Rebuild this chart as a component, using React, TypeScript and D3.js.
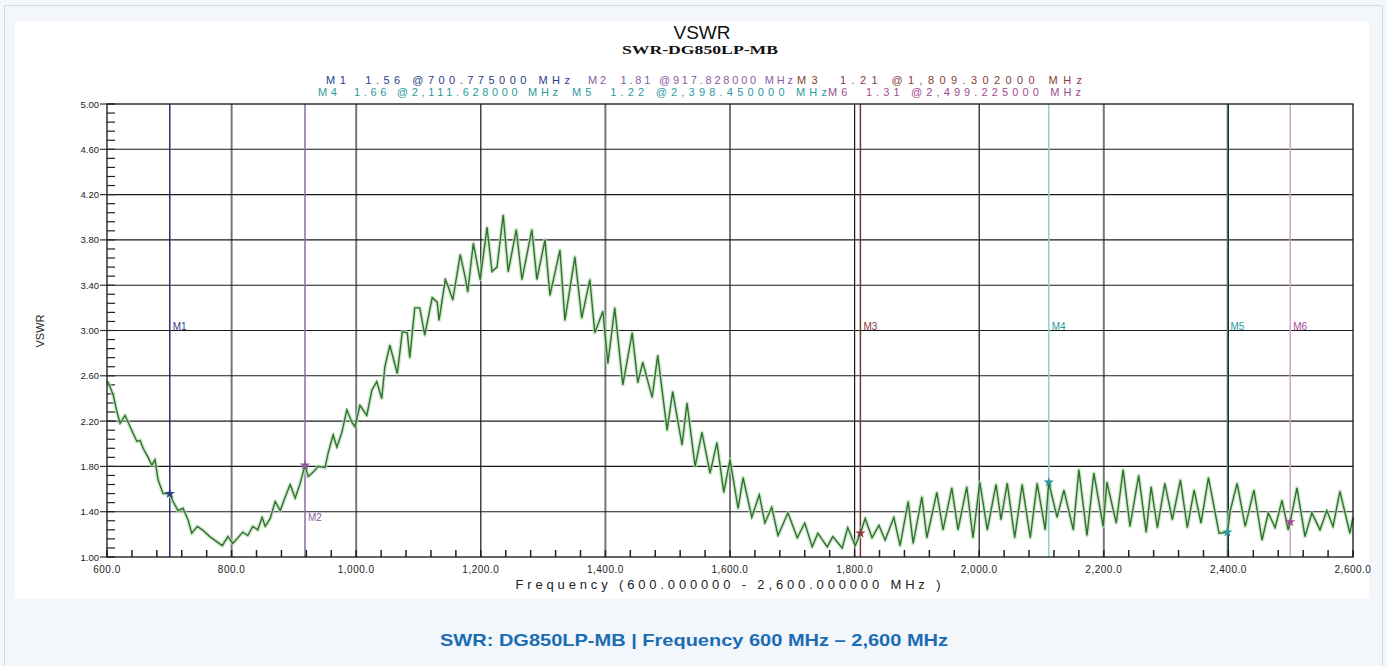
import React, { useEffect, useRef } from 'react';
import * as d3 from 'd3';

// trace: [frequency MHz, VSWR]
const trace: [number, number][] = [
  [600, 2.55], [602, 2.54], [610, 2.43], [616, 2.28], [621, 2.18], [629, 2.25],
  [642, 2.09], [648, 2.02], [653, 2.03], [658, 1.96], [666, 1.88], [672, 1.81],
  [677, 1.86], [682, 1.68], [690, 1.56], [700.8, 1.56], [706, 1.49], [714, 1.41],
  [722, 1.43], [730, 1.33], [736, 1.21], [745, 1.27], [753, 1.24], [765, 1.18],
  [785, 1.1], [794, 1.18], [802, 1.12], [818, 1.22], [826, 1.19], [834, 1.27],
  [842, 1.24], [849, 1.35], [854, 1.27], [862, 1.34], [870, 1.49], [878, 1.41],
  [886, 1.53], [894, 1.64], [902, 1.52], [910, 1.65], [917.8, 1.81], [923, 1.71],
  [931, 1.75], [939, 1.8], [950, 1.79], [955, 1.92], [963, 2.08], [969, 1.97],
  [977, 2.1], [985, 2.3], [993, 2.19], [998, 2.15], [1006, 2.34], [1017, 2.25],
  [1025, 2.47], [1033, 2.55], [1041, 2.4], [1046, 2.68], [1054, 2.87], [1066, 2.62],
  [1074, 2.99], [1082, 2.98], [1086, 2.76], [1094, 3.2], [1102, 3.2], [1110, 2.96],
  [1122, 3.29], [1130, 3.25], [1133, 3.09], [1143, 3.45], [1147, 3.4], [1155, 3.27],
  [1167, 3.67], [1175, 3.47], [1179, 3.34], [1188, 3.77], [1199, 3.45], [1210, 3.91],
  [1218, 3.52], [1226, 3.56], [1236, 4.02], [1244, 3.52], [1257, 3.89], [1266, 3.45],
  [1282, 3.89], [1290, 3.45], [1303, 3.8], [1311, 3.31], [1327, 3.71], [1335, 3.09],
  [1351, 3.65], [1362, 3.11], [1375, 3.45], [1383, 2.98], [1396, 3.17], [1404, 2.71],
  [1415, 3.2], [1428, 2.52], [1443, 2.98], [1452, 2.54], [1460, 2.72], [1475, 2.41],
  [1484, 2.78], [1499, 2.12], [1508, 2.46], [1523, 1.99], [1531, 2.36], [1544, 1.8],
  [1555, 2.1], [1568, 1.74], [1579, 2.01], [1590, 1.57], [1600, 1.86], [1613, 1.43],
  [1621, 1.7], [1635, 1.35], [1647, 1.55], [1656, 1.3], [1667, 1.44], [1677, 1.19],
  [1693, 1.39], [1708, 1.17], [1720, 1.3], [1732, 1.09], [1741, 1.21], [1756, 1.09],
  [1765, 1.18], [1780, 1.08], [1789, 1.26], [1801, 1.1], [1809.3, 1.21], [1817, 1.34],
  [1828, 1.17], [1839, 1.28], [1849, 1.15], [1863, 1.35], [1873, 1.1], [1886, 1.49],
  [1894, 1.12], [1908, 1.53], [1916, 1.17], [1932, 1.57], [1942, 1.24], [1956, 1.61],
  [1966, 1.24], [1980, 1.62], [1990, 1.17], [2001, 1.66], [2013, 1.24], [2027, 1.64],
  [2035, 1.33], [2045, 1.65], [2057, 1.17], [2069, 1.64], [2082, 1.17], [2093, 1.65],
  [2106, 1.24], [2111.6, 1.66], [2125, 1.35], [2136, 1.59], [2151, 1.24], [2160, 1.77],
  [2173, 1.19], [2184, 1.74], [2199, 1.27], [2205, 1.66], [2220, 1.3], [2231, 1.77],
  [2242, 1.27], [2256, 1.72], [2268, 1.22], [2276, 1.62], [2286, 1.26], [2298, 1.65],
  [2310, 1.33], [2323, 1.68], [2334, 1.26], [2345, 1.59], [2356, 1.3], [2368, 1.7],
  [2385, 1.21], [2398.45, 1.22], [2403, 1.41], [2414, 1.65], [2427, 1.27], [2441, 1.59],
  [2454, 1.15], [2464, 1.39], [2475, 1.26], [2486, 1.5], [2496, 1.24], [2499.2, 1.31],
  [2510, 1.61], [2523, 1.18], [2534, 1.39], [2547, 1.24], [2558, 1.41], [2568, 1.27],
  [2579, 1.58], [2595, 1.21], [2600, 1.35],
];

const markerNames = ['M1', 'M2', 'M3', 'M4', 'M5', 'M6'];
const markerFreqs = [700.775, 917.828, 1809.302, 2111.628, 2398.45, 2499.225];
const markerVswr = [1.56, 1.81, 1.21, 1.66, 1.22, 1.31];

const xTicks = [600, 800, 1000, 1200, 1400, 1600, 1800, 2000, 2200, 2400, 2600];
const yTicks = [1.0, 1.4, 1.8, 2.2, 2.6, 3.0, 3.4, 3.8, 4.2, 4.6, 5.0];

const title = 'VSWR';
const subtitle = 'SWR-DG850LP-MB';
const xTitle = 'Frequency (600.000000 - 2,600.000000 MHz )';
const caption = 'SWR: DG850LP-MB | Frequency 600 MHz \u2013 2,600 MHz';

// marker styling
const markerLine = ['#2c2c78', '#8a6aa6', '#7a3434', '#8fd0d6', '#4a7a80', '#c9a6c9'];
const markerText = ['#2c3a8c', '#8a5aa8', '#8a3a3a', '#2a9a9a', '#2a9aa0', '#a04a90'];
// where the legend entries sit: [x, baseline, width]
const legendPos = [
  [326, 84, 244], [588, 84, 205], [797, 84, 285],
  [318, 96, 240], [572, 96, 255], [828, 96, 253],
];
const softGrid = new Set([800, 1000, 1400, 1600, 2200]);

const W = 1387;
const H = 666;
const FONT = "Arial, 'Liberation Sans', sans-serif";

const App = () => {
  const svgRef = useRef<SVGSVGElement>(null);

  useEffect(() => {
    const svg = d3.select(svgRef.current).attr('width', W).attr('height', H);
    svg.selectAll('*').remove();

    const left = 107, right = 1353, top = 104, bottom = 557;
    const x = d3.scaleLinear().domain([600, 2600]).range([left, right]);
    const y = d3.scaleLinear().domain([1, 5]).range([bottom, top]);

    // page frame + white picture area
    svg.append('rect').attr('width', W).attr('height', H).attr('fill', '#f3f6fa');
    svg.append('path')
      .attr('d', `M4.5,${H}V5.5H1382.5V${H}`)
      .attr('fill', 'none').attr('stroke', '#d6dadf');
    svg.append('rect')
      .attr('x', 15).attr('y', 21).attr('width', 1354).attr('height', 578)
      .attr('fill', '#fff');

    // titles
    svg.append('text').attr('x', 702).attr('y', 39).attr('text-anchor', 'middle')
      .attr('font-family', FONT).attr('font-size', 19).attr('fill', '#111').text(title);
    svg.append('text').attr('x', 700).attr('y', 54).attr('text-anchor', 'middle')
      .attr('font-family', "'Liberation Serif', 'Times New Roman', serif")
      .attr('font-weight', 'bold').attr('font-size', 12).attr('fill', '#111')
      .attr('textLength', 156).attr('lengthAdjust', 'spacingAndGlyphs')
      .text(subtitle);

    // marker legend
    const fmtF = d3.format(',.6f');
    markerNames.forEach((name, i) => {
      const [lx, ly, lw] = legendPos[i];
      svg.append('text').attr('x', lx).attr('y', ly)
        .attr('font-family', FONT).attr('font-size', 11).attr('fill', markerText[i])
        .attr('textLength', lw).attr('lengthAdjust', 'spacing')
        .attr('xml:space', 'preserve')
        .text(`${name}  ${markerVswr[i].toFixed(2)} @${fmtF(markerFreqs[i])} MHz`);
    });

    const g = svg.append('g');

    // grid
    xTicks.slice(1, -1).forEach(t => {
      const soft = softGrid.has(t);
      g.append('line')
        .attr('x1', x(t)).attr('x2', x(t)).attr('y1', top).attr('y2', bottom)
        .attr('stroke', soft ? '#777' : '#151515')
        .attr('stroke-width', soft ? 2 : 1.2);
    });
    yTicks.slice(1, -1).forEach(t => {
      g.append('line')
        .attr('x1', left).attr('x2', right).attr('y1', y(t)).attr('y2', y(t))
        .attr('stroke', '#1a1a1a').attr('stroke-width', 1.1);
    });

    // marker lines
    markerFreqs.forEach((f, i) => {
      g.append('line')
        .attr('x1', x(f)).attr('x2', x(f)).attr('y1', top).attr('y2', bottom)
        .attr('stroke', markerLine[i]).attr('stroke-width', 1.5);
    });

    // minor ticks pointing inward
    const xMinor = d3.range(600, 2601, 40);
    xMinor.forEach(t => {
      g.append('line')
        .attr('x1', x(t)).attr('x2', x(t)).attr('y1', bottom).attr('y2', bottom - 7)
        .attr('stroke', '#222').attr('stroke-width', 1.5);
    });
    const yMinor = d3.range(1, 5.001, 0.08);
    yMinor.forEach(t => {
      g.append('line')
        .attr('x1', left).attr('x2', left + 8).attr('y1', y(t)).attr('y2', y(t))
        .attr('stroke', '#222').attr('stroke-width', 1.2);
    });

    // trace: soft halo then line
    const line = d3.line<[number, number]>()
      .x(d => x(d[0]))
      .y(d => y(d[1]));
    g.append('path').datum(trace)
      .attr('fill', 'none').attr('stroke', '#b9e0b3').attr('stroke-width', 4)
      .attr('stroke-opacity', 0.7).attr('stroke-linejoin', 'round')
      .attr('d', line);
    g.append('path').datum(trace)
      .attr('fill', 'none').attr('stroke', '#336f33').attr('stroke-width', 1.4)
      .attr('d', line);

    // marker points + labels
    const star = d3.symbol().type(d3.symbolStar).size(34);
    markerFreqs.forEach((f, i) => {
      g.append('path')
        .attr('transform', `translate(${x(f)},${y(markerVswr[i])})`)
        .attr('d', star()).attr('fill', markerText[i]);
      const lv = markerNames[i] === 'M2' ? 1.35 : 3.04;
      g.append('text')
        .attr('x', x(f) + 3).attr('y', y(lv) + 4)
        .attr('font-family', FONT).attr('font-size', 10).attr('fill', markerText[i])
        .text(markerNames[i]);
    });

    // frame
    g.append('rect')
      .attr('x', left).attr('y', top).attr('width', right - left).attr('height', bottom - top)
      .attr('fill', 'none').attr('stroke', '#111').attr('stroke-width', 1.3);

    // axes labels
    const fmtX = d3.format(',.1f');
    xTicks.forEach(t => {
      g.append('text').attr('x', x(t)).attr('y', 573).attr('text-anchor', 'middle')
        .attr('font-family', FONT).attr('font-size', 10).attr('letter-spacing', 0.5)
        .attr('fill', '#222').text(fmtX(t));
    });
    yTicks.forEach(t => {
      g.append('line')
        .attr('x1', left - 7).attr('x2', left).attr('y1', y(t)).attr('y2', y(t))
        .attr('stroke', '#333').attr('stroke-width', 1.2);
      g.append('text').attr('x', 99).attr('y', y(t) + 3.5).attr('text-anchor', 'end')
        .attr('font-family', FONT).attr('font-size', 9.5).attr('fill', '#222')
        .text(t.toFixed(2));
    });

    svg.append('text').attr('x', 728).attr('y', 589).attr('text-anchor', 'middle')
      .attr('font-family', FONT).attr('font-size', 13).attr('fill', '#222')
      .attr('textLength', 425).attr('lengthAdjust', 'spacing')
      .text(xTitle);
    svg.append('text')
      .attr('transform', 'translate(44,331) rotate(-90)')
      .attr('text-anchor', 'middle')
      .attr('font-family', FONT).attr('font-size', 11).attr('fill', '#222')
      .text('VSWR');

    // caption under the picture
    svg.append('text').attr('x', 694).attr('y', 646).attr('text-anchor', 'middle')
      .attr('font-family', FONT).attr('font-weight', 'bold').attr('font-size', 17)
      .attr('fill', '#1a6db5')
      .attr('textLength', 508).attr('lengthAdjust', 'spacingAndGlyphs')
      .text(caption);
  }, []);

  return (
    <div style={{ position: 'absolute', left: 0, top: 0 }}>
      <svg ref={svgRef} style={{ display: 'block' }} />
    </div>
  );
};

export default App;
